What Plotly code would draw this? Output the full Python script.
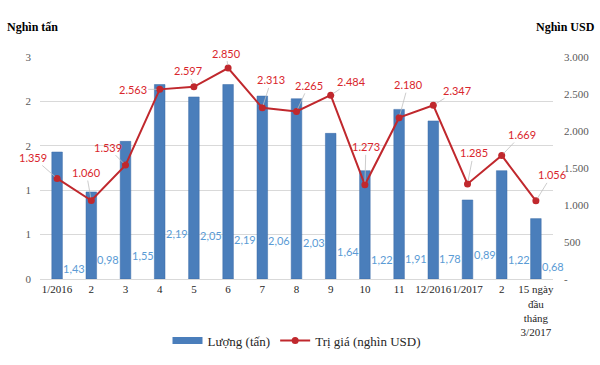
import plotly.graph_objects as go

categories = ["1/2016", "2", "3", "4", "5", "6", "7", "8", "9", "10", "11",
              "12/2016", "1/2017", "2", "15 ngày<br>đầu<br>tháng<br>3/2017"]
volume_tons = [1.43, 0.98, 1.55, 2.19, 2.05, 2.19, 2.06, 2.03, 1.64, 1.22, 1.91, 1.78, 0.89, 1.22, 0.68]
value_kusd = [1359, 1060, 1539, 2563, 2597, 2850, 2313, 2265, 2484, 1273, 2180, 2347, 1285, 1669, 1056]

left_ticks = [0, 0.5, 1, 1.5, 2, 2.5]
left_ticktext = ["0", "1", "1", "2", "2", "3"]
right_ticks = [0, 500, 1000, 1500, 2000, 2500, 3000]
right_ticktext = ["-", "500", "1.000", "1.500", "2.000", "2.500", "3.000"]

# label placement (pixel offsets) - styling only
line_label_offsets = [(-24, -21), (-5, -28), (-18, -18), (-27, 0), (-6, -16), (-2, -15),
                      (9, -28), (12, -26), (21, -14), (1, -38), (9, -33), (24, -15),
                      (6, -31), (20, -21), (16, -26)]
bar_label_yshift = [11, 20, 24, 46, 44, 40, 39, 37, 28, 20, 21, 21, 25, 20, 13]

idx = list(range(len(categories)))

BLUE = "#4a7ebb"
RED = "#c0282d"
SERIF = "Liberation Serif, Times New Roman, serif"
SANS = "Lato, Carlito, sans-serif"

fig = go.Figure()
fig.add_trace(go.Bar(
    x=idx, y=volume_tons, name="Lượng (tấn)", showlegend=False,
    marker=dict(color=BLUE, line=dict(color="#3a6aa6", width=0.5)),
    width=0.31, yaxis="y",
))
# legend swatch for the bars (flat rectangle like the original)
fig.add_trace(go.Scatter(
    x=[None], y=[None], name="Lượng (tấn)", mode="lines",
    line=dict(color=BLUE, width=7), yaxis="y",
))
fig.add_trace(go.Scatter(
    x=idx, y=value_kusd, name="Trị giá (nghìn USD)", mode="lines+markers",
    line=dict(color=RED, width=2),
    marker=dict(color=RED, size=7, symbol="circle"),
    yaxis="y2",
))

for i, v in enumerate(value_kusd):
    dx, dy = line_label_offsets[i]
    fig.add_annotation(
        x=i, y=v, xref="x", yref="y2", text=f"{v:,}".replace(",", "."),
        showarrow=True, arrowhead=0, arrowwidth=0.8, arrowcolor="#bfbfbf",
        ax=dx, ay=dy, font=dict(family=SANS, size=11, color="#d9262c"),
        standoff=3,
    )
for i, v in enumerate(volume_tons):
    fig.add_annotation(
        x=i, y=0, xref="x", yref="y", text=f"{v:.2f}".replace(".", ","),
        showarrow=False, xshift=17, yshift=bar_label_yshift[i],
        font=dict(family=SANS, size=11, color="#5b9bd5"),
    )

fig.add_annotation(x=-0.068, y=1.135, xref="paper", yref="paper", xanchor="left", yanchor="middle",
                   text="<b>Nghìn tấn</b>", showarrow=False,
                   font=dict(family=SERIF, size=12, color="black"))
fig.add_annotation(x=1.086, y=1.135, xref="paper", yref="paper", xanchor="right", yanchor="middle",
                   text="<b>Nghìn USD</b>", showarrow=False,
                   font=dict(family=SERIF, size=12, color="black"))

fig.update_layout(
    width=600, height=365,
    margin=dict(l=40, r=47, t=57, b=86, autoexpand=False),
    paper_bgcolor="white", plot_bgcolor="white",
    showlegend=True,
    legend=dict(orientation="h", x=0.5, xanchor="center", y=-0.21, yanchor="top",
                font=dict(family=SERIF, size=13, color="#262626"), itemwidth=30),
    bargap=0.6,
    xaxis=dict(
        tickvals=idx, ticktext=categories, range=[-0.5, len(categories) - 0.5],
        tickfont=dict(family=SERIF, size=11, color="#262626"), tickangle=0,
        showgrid=False, showline=True, linecolor="#d9d9d9", ticks="",
        zeroline=False, automargin=False,
    ),
    yaxis=dict(
        range=[0, 2.5], tickvals=left_ticks, ticktext=left_ticktext,
        tickfont=dict(family=SERIF, size=11, color="#595959"),
        showgrid=True, gridcolor="#d9d9d9", gridwidth=1, zeroline=False,
        ticklabelstandoff=8, automargin=False,
    ),
    yaxis2=dict(
        range=[0, 3000], tickvals=right_ticks, ticktext=right_ticktext,
        overlaying="y", side="right", showgrid=False, zeroline=False,
        tickfont=dict(family=SERIF, size=11, color="#595959"),
        ticklabelstandoff=10, automargin=False,
    ),
)

fig.write_html("out.html", config={"displayModeBar": False},
               post_script="document.body.style.margin='0';")
